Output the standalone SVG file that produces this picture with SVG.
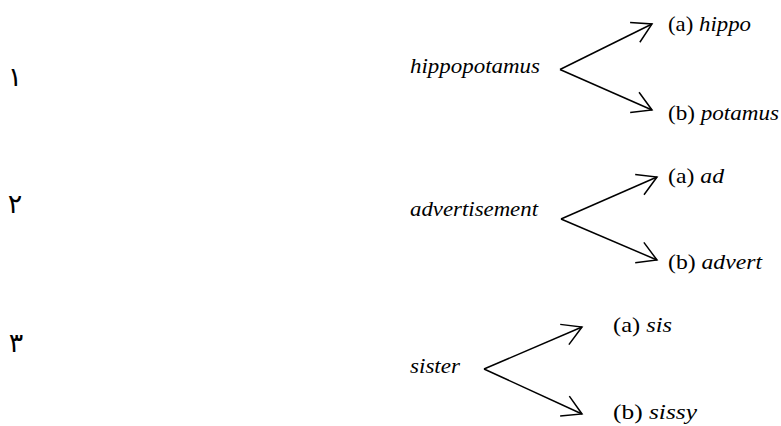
<svg xmlns="http://www.w3.org/2000/svg" width="781" height="426" viewBox="0 0 781 426">
<style>
text{fill:#000}
.i{font-style:italic}
.c{stroke:#000;stroke-width:1.5;fill:none;marker-end:url(#ah)}
</style>
<defs>
<marker id="ah" markerUnits="userSpaceOnUse" markerWidth="30" markerHeight="30" refX="0" refY="0" orient="auto" overflow="visible">
<path d="M-19,-11 L0,0 L-19,11" fill="none" stroke="#000" stroke-width="1.5"/>
</marker>
</defs>
<rect width="781" height="426" fill="#fff"/>
<g id="numbers" font-family="DejaVu Sans" font-size="27" text-anchor="middle">
<text x="15" y="86">١</text>
<text x="15" y="213">٢</text>
<text x="16" y="352">٣</text>
</g>
<g font-family="Liberation Serif" font-size="21">
<g id="node-hippopotamus"><text class="i" x="410" y="73" textLength="130" lengthAdjust="spacingAndGlyphs">hippopotamus</text></g>
<g id="node-hippo"><text x="668" y="31" textLength="83" lengthAdjust="spacingAndGlyphs">(a) <tspan class="i">hippo</tspan></text></g>
<g id="node-potamus"><text x="668" y="120" textLength="111" lengthAdjust="spacingAndGlyphs">(b) <tspan class="i">potamus</tspan></text></g>
<g id="node-advertisement"><text class="i" x="410" y="216" textLength="128" lengthAdjust="spacingAndGlyphs">advertisement</text></g>
<g id="node-ad"><text x="668" y="183" textLength="56" lengthAdjust="spacingAndGlyphs">(a) <tspan class="i">ad</tspan></text></g>
<g id="node-advert"><text x="668" y="269" textLength="94" lengthAdjust="spacingAndGlyphs">(b) <tspan class="i">advert</tspan></text></g>
<g id="node-sister"><text class="i" x="410" y="373" textLength="50" lengthAdjust="spacingAndGlyphs">sister</text></g>
<g id="node-sis"><text x="613" y="332" textLength="59" lengthAdjust="spacingAndGlyphs">(a) <tspan class="i">sis</tspan></text></g>
<g id="node-sissy"><text x="613" y="419" textLength="84" lengthAdjust="spacingAndGlyphs">(b) <tspan class="i">sissy</tspan></text></g>
</g>
<g id="connectors">
<path class="c" d="M560,69.5 L652,24"/>
<path class="c" d="M560,69.5 L652,110"/>
<path class="c" d="M561,219 L657,177"/>
<path class="c" d="M561,219 L657,260"/>
<path class="c" d="M484,369 L582,327"/>
<path class="c" d="M484,369 L582,414"/>
</g>
</svg>
